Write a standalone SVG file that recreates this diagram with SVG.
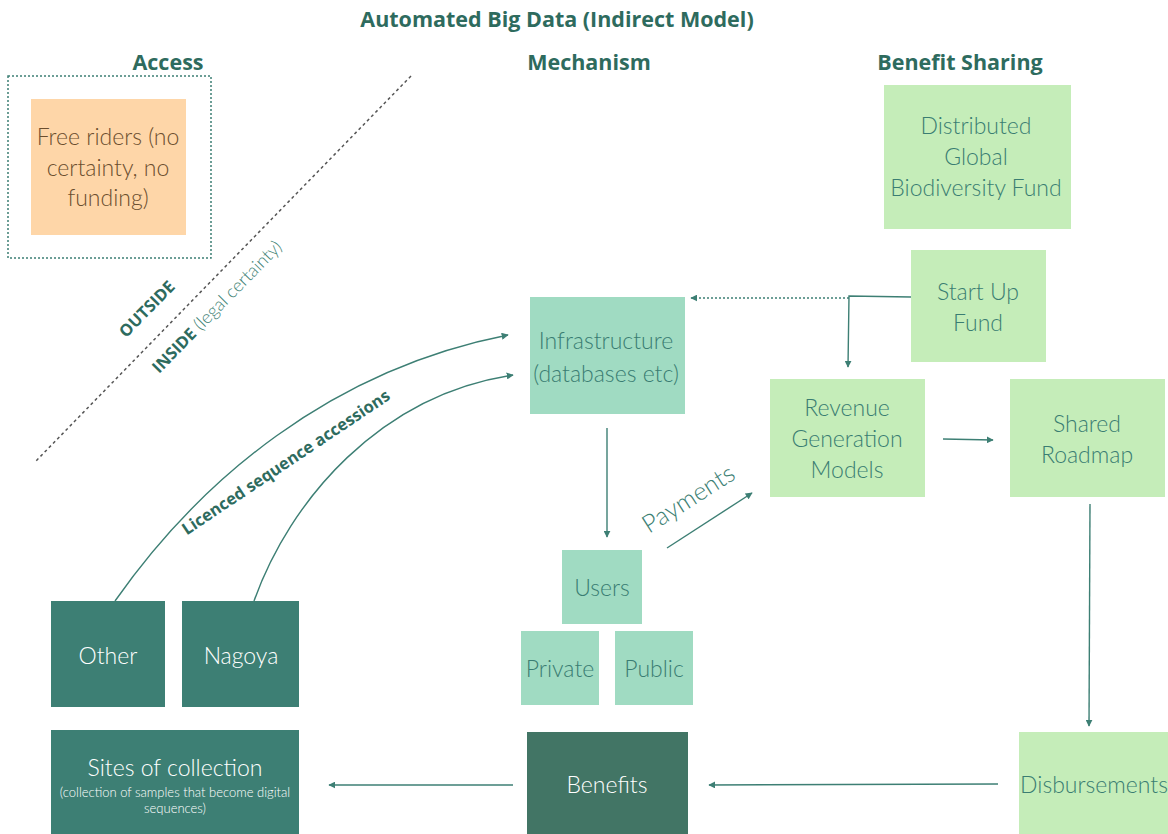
<svg xmlns="http://www.w3.org/2000/svg" width="1168" height="834" viewBox="0 0 1168 834">
<defs>
<marker id="ah" viewBox="0 0 10 10" refX="9" refY="5" markerWidth="7" markerHeight="7" markerUnits="userSpaceOnUse" orient="auto">
<path d="M0,0 L10,5 L0,10 z" fill="#3d7f74"/>
</marker>
<style>
.hd{font-family:"Open Sans","Liberation Sans",sans-serif;font-weight:700;fill:#2e6b5e;}
.lb{font-family:Lato,"Liberation Sans",sans-serif;font-weight:300;font-size:23px;text-anchor:middle;}
.sm{font-size:13px;}
.dk{fill:#3a7d72;}
.wt{fill:#ffffff;}
.mint{fill:#a0dbc2;}
.lg{fill:#c5edb9;}
.teal{fill:#3d7f74;}
.ln{fill:none;stroke:#3d7f74;stroke-width:1.4;}
</style>
</defs>
<rect width="1168" height="834" fill="#ffffff"/>
<text class="hd" x="557" y="27" font-size="21.5" text-anchor="middle">Automated Big Data (Indirect Model)</text>
<text class="hd" x="168" y="70" font-size="21.5" text-anchor="middle">Access</text>
<text class="hd" x="589" y="70" font-size="21.5" text-anchor="middle">Mechanism</text>
<text class="hd" x="960" y="70" font-size="21.5" text-anchor="middle">Benefit Sharing</text>

<rect x="8" y="76" width="203" height="182" fill="none" stroke="#3d7f74" stroke-width="1.5" stroke-dasharray="2,2"/>
<line x1="411" y1="76" x2="35" y2="462" stroke="#555" stroke-width="1.5" stroke-dasharray="3,3"/>
<text class="hd" font-size="16.5" transform="translate(151,313) rotate(-45.5)" text-anchor="middle">OUTSIDE</text>
<text font-size="16.5" transform="translate(221,311) rotate(-45.5)" text-anchor="middle"><tspan class="hd">INSIDE</tspan><tspan font-family="Lato,'Liberation Sans',sans-serif" font-weight="300" fill="#3d7f74" font-size="18"> (legal certainty)</tspan></text>

<g id="connectors">
<path class="ln" d="M115,601 C200,480 330,370 508,335" marker-end="url(#ah)"/>
<path class="ln" d="M254,601 C290,500 380,395 513,375" marker-end="url(#ah)"/>
<line class="ln" x1="849" y1="298" x2="691" y2="298" stroke-dasharray="2,2" marker-end="url(#ah)"/>
<polyline class="ln" points="911,297 849,296 848,367" marker-end="url(#ah)"/>
<line class="ln" x1="607" y1="428" x2="607" y2="537" marker-end="url(#ah)"/>
<line class="ln" x1="667" y1="548" x2="752" y2="493" marker-end="url(#ah)"/>
<line class="ln" x1="943" y1="439" x2="993" y2="440" marker-end="url(#ah)"/>
<line class="ln" x1="1090" y1="504" x2="1089" y2="726" marker-end="url(#ah)"/>
<line class="ln" x1="998" y1="784" x2="709" y2="785" marker-end="url(#ah)"/>
<line class="ln" x1="513" y1="785" x2="329" y2="785" marker-end="url(#ah)"/>
<text class="hd" font-size="16.5" transform="translate(289,467) rotate(-33.8)" text-anchor="middle">Licenced sequence accessions</text>
<text class="lb" fill="#3d7f74" style="font-size:25px" transform="translate(693,506) rotate(-32.5)">Payments</text>
</g>

<g id="free-riders">
<rect x="31" y="99" width="155" height="136" fill="#fed6a8"/>
<text class="lb" fill="#6b4e2e"><tspan x="108" y="145">Free riders (no</tspan><tspan x="108" y="176">certainty, no</tspan><tspan x="108" y="206">funding)</tspan></text>
</g>
<g id="distributed">
<rect class="lg" x="884" y="85" width="187" height="144"/>
<text class="lb dk"><tspan x="976" y="134">Distributed</tspan><tspan x="976" y="165">Global</tspan><tspan x="976" y="196">Biodiversity Fund</tspan></text>
</g>
<g id="startup">
<rect class="lg" x="911" y="250" width="135" height="112"/>
<text class="lb dk"><tspan x="978" y="300">Start Up</tspan><tspan x="978" y="331">Fund</tspan></text>
</g>
<g id="infrastructure">
<rect class="mint" x="530" y="297" width="155" height="117"/>
<text class="lb dk"><tspan x="606" y="349">Infrastructure</tspan><tspan x="606" y="382">(databases etc)</tspan></text>
</g>
<g id="revenue">
<rect class="lg" x="770" y="379" width="155" height="118"/>
<text class="lb dk"><tspan x="847" y="416">Revenue</tspan><tspan x="847" y="447">Generation</tspan><tspan x="847" y="478">Models</tspan></text>
</g>
<g id="roadmap">
<rect class="lg" x="1010" y="379" width="155" height="118"/>
<text class="lb dk"><tspan x="1087" y="432">Shared</tspan><tspan x="1087" y="463">Roadmap</tspan></text>
</g>
<g id="users">
<rect class="mint" x="562" y="550" width="80" height="74"/>
<text class="lb dk" x="602" y="596">Users</text>
</g>
<g id="private">
<rect class="mint" x="521" y="631" width="78" height="74"/>
<text class="lb dk" x="560" y="677">Private</text>
</g>
<g id="public">
<rect class="mint" x="615" y="631" width="78" height="74"/>
<text class="lb dk" x="654" y="677">Public</text>
</g>
<g id="other">
<rect class="teal" x="51" y="601" width="114" height="106"/>
<text class="lb wt" x="108" y="664">Other</text>
</g>
<g id="nagoya">
<rect class="teal" x="182" y="601" width="117" height="106"/>
<text class="lb wt" x="241" y="664">Nagoya</text>
</g>
<g id="sites">
<rect class="teal" x="51" y="730" width="248" height="104"/>
<text class="lb wt" x="175" y="776">Sites of collection</text>
<text class="lb wt sm"><tspan x="175" y="797">(collection of samples that become digital</tspan><tspan x="175" y="813">sequences)</tspan></text>
</g>
<g id="benefits">
<rect fill="#427565" x="527" y="732" width="161" height="102"/>
<text class="lb wt" x="607" y="793">Benefits</text>
</g>
<g id="disbursements">
<rect class="lg" x="1019" y="732" width="149" height="102"/>
<text class="lb dk" x="1094" y="793">Disbursements</text>
</g>
</svg>
